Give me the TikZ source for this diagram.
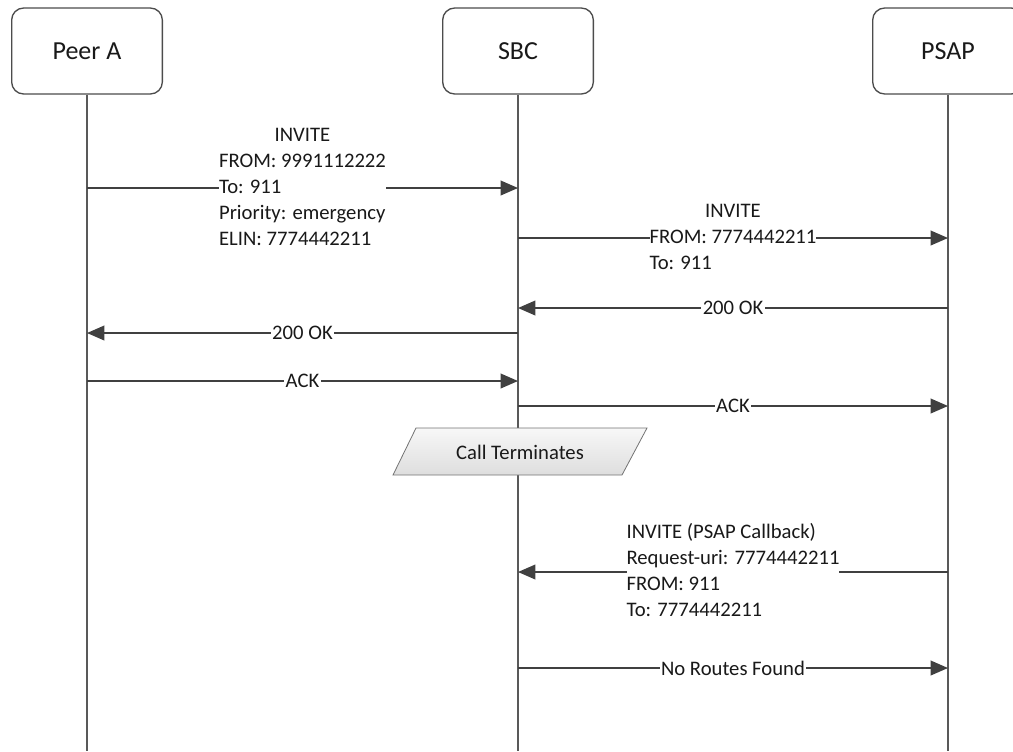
\documentclass[tikz,border=0pt]{standalone}
\usepackage{fontspec}
\setmainfont{Carlito}
\usetikzlibrary{arrows.meta}

\begin{document}
\begin{tikzpicture}[x=0.75pt, y=-0.75pt,
  every node/.style={font=\fontsize{15.5pt}{19.5pt}\selectfont, text=black!90},
  actor/.style={draw=black!70, line width=1pt, rounded corners=9pt, fill=white, minimum width=113pt, minimum height=64.5pt, font=\fontsize{19.5pt}{23pt}\selectfont},
  life/.style={draw=black!65, line width=1.2pt},
  msg/.style={draw=black!75, line width=1.2pt, -{Triangle[length=13pt, width=11pt]}},
  lbl/.style={fill=white, inner sep=1pt},
  blk/.style={fill=white, inner sep=0pt},
  term/.style={draw=black!55, line width=0.6pt, top color=black!3, bottom color=black!13}]
  \useasboundingbox (0,0) rectangle (1013,751);
  \clip (0,0) rectangle (1013,751);

  \node[actor] (peer) at (87,51) {Peer A};
  \node[actor] (sbc) at (518,51) {SBC};
  \node[actor] (psap) at (948,51) {PSAP};

  \coordinate (bottom) at (0,751);
  \draw[life] (peer.south) -- (peer |- bottom);
  \draw[life] (sbc.south) -- (sbc |- bottom);
  \draw[life] (psap.south) -- (psap |- bottom);

  \coordinate (m1) at (0,188);
  \coordinate (m2) at (0,238);
  \coordinate (m3) at (0,308);
  \coordinate (m4) at (0,333);
  \coordinate (m5) at (0,381);
  \coordinate (m6) at (0,406);
  \coordinate (m7) at (0,572);
  \coordinate (m8) at (0,668);

  \draw[msg] (peer |- m1) -- (sbc |- m1) node[midway, blk]
    {\begin{tabular}{@{}l@{}}\multicolumn{1}{@{}c@{}}{INVITE}\\ FROM: 9991112222\\ To: 911\\ Priority: emergency\\ ELIN: 7774442211\end{tabular}};
  \draw[msg] (sbc |- m2) -- (psap |- m2) node[midway, blk]
    {\begin{tabular}{@{}l@{}}\multicolumn{1}{@{}c@{}}{INVITE}\\ FROM: 7774442211\\ To: 911\end{tabular}};
  \draw[msg] (psap |- m3) -- (sbc |- m3) node[midway, lbl] {200 OK};
  \draw[msg] (sbc |- m4) -- (peer |- m4) node[midway, lbl] {200 OK};
  \draw[msg] (peer |- m5) -- (sbc |- m5) node[midway, lbl] {ACK};
  \draw[msg] (sbc |- m6) -- (psap |- m6) node[midway, lbl] {ACK};

  \shade[term] (393,475) -- (622,475) -- (647,428) -- (416,428) -- cycle;
  \node (callend) at (520,452) {Call Terminates};

  \draw[msg] (psap |- m7) -- (sbc |- m7) node[midway, blk]
    {\begin{tabular}{@{}l@{}}INVITE (PSAP Callback)\\ Request-uri: 7774442211\\ FROM: 911\\ To: 7774442211\end{tabular}};
  \draw[msg] (sbc |- m8) -- (psap |- m8) node[midway, lbl] {No Routes Found};
\end{tikzpicture}
\end{document}
